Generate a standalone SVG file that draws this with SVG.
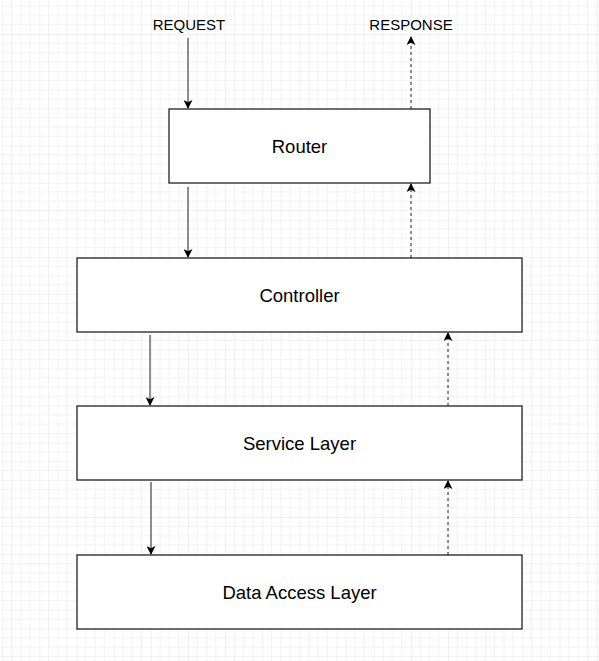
<svg xmlns="http://www.w3.org/2000/svg" width="599" height="661" viewBox="0 0 599 661">
<style>
.box{fill:#fff;stroke:#222;stroke-width:1.3}
.lbl{font-family:"Liberation Sans",Arial,sans-serif;font-size:18.5px;fill:#000;text-anchor:middle;dominant-baseline:central}
.ext{font-family:"Liberation Sans",Arial,sans-serif;font-size:15px;fill:#000;text-anchor:middle}
.req{stroke:#222;stroke-width:1;fill:none}
.res{stroke:#222;stroke-width:1;fill:none;stroke-dasharray:3 3}
</style>
<defs>
<pattern id="grid" patternUnits="userSpaceOnUse" x="2.15" y="-3.15" width="37.16" height="37.16">
<path d="M9.29 0V37.16M18.58 0V37.16M27.87 0V37.16M0 9.29H37.16M0 18.58H37.16M0 27.87H37.16" stroke="#f2f2f2" stroke-width="1" fill="none"/>
<path d="M0 0V37.16M0 0H37.16" stroke="#e4e4e4" stroke-width="1" fill="none"/>
</pattern>
<marker id="ah" viewBox="0 0 10 10" refX="9" refY="5" markerWidth="9" markerHeight="9" markerUnits="userSpaceOnUse" orient="auto">
<path d="M0 0L10 5L0 10L2.5 5Z" fill="#000"/>
</marker>
</defs>
<rect width="599" height="661" fill="#fff"/>
<rect width="599" height="661" fill="url(#grid)"/>
<g id="connectors">
<path class="req" d="M188 38V108" marker-end="url(#ah)"/>
<path class="res" d="M411 109V37" marker-end="url(#ah)"/>
<path class="req" d="M188 187V257" marker-end="url(#ah)"/>
<path class="res" d="M411 258V184" marker-end="url(#ah)"/>
<path class="req" d="M150 335V405" marker-end="url(#ah)"/>
<path class="res" d="M448 406V333" marker-end="url(#ah)"/>
<path class="req" d="M151 482V554" marker-end="url(#ah)"/>
<path class="res" d="M448 555V481" marker-end="url(#ah)"/>
</g>
<g id="request"><text class="ext" x="189" y="30">REQUEST</text></g>
<g id="response"><text class="ext" x="411" y="30">RESPONSE</text></g>
<g id="router"><rect class="box" x="169" y="109" width="261" height="74"/><text class="lbl" x="299.5" y="146">Router</text></g>
<g id="controller"><rect class="box" x="77" y="258" width="445" height="74"/><text class="lbl" x="299.5" y="295">Controller</text></g>
<g id="service"><rect class="box" x="77" y="406" width="445" height="74"/><text class="lbl" x="299.5" y="443">Service Layer</text></g>
<g id="dataaccess"><rect class="box" x="77" y="555" width="445" height="74"/><text class="lbl" x="299.5" y="592">Data Access Layer</text></g>
</svg>
